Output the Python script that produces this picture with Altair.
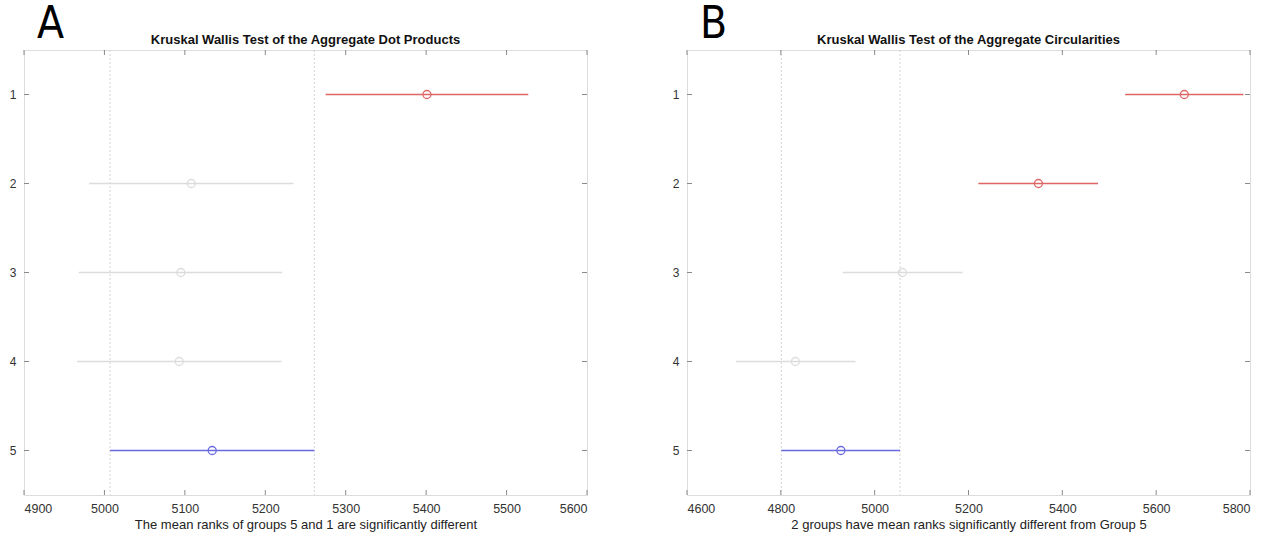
import altair as alt
import pandas as pd

# ---- data ----
groups = [1, 2, 3, 4, 5]

a_center = [5401, 5108, 5095, 5093, 5134]
a_low = [5275, 4981, 4968, 4966, 5007]
a_high = [5527, 5235, 5221, 5220, 5261]
a_status = ["sig", "ns", "ns", "ns", "ref"]
a_xticks = [4900, 5000, 5100, 5200, 5300, 5400, 5500, 5600]

b_center = [5660, 5349, 5059, 4831, 4928]
b_low = [5534, 5221, 4932, 4704, 4801]
b_high = [5786, 5476, 5187, 4959, 5054]
b_status = ["sig", "sig", "ns", "ns", "ref"]
b_xticks = [4600, 4800, 5000, 5200, 5400, 5600, 5800]

W, H = 563, 445
status_domain = ["sig", "ns", "ref"]
status_range = ["#e06666", "#dcdcdc", "#6a6ae0"]
FONT = "Liberation Sans"


def panel(letter, title, xlabel, center, low, high, status, xticks):
    df = pd.DataFrame({"group": groups, "center": center, "low": low,
                       "high": high, "status": status})
    xdom = [xticks[0], xticks[-1]]
    xs = alt.Scale(domain=xdom, nice=False, zero=False)
    ys = alt.Scale(domain=[0.5, 5.5], reverse=True, nice=False, zero=False)
    color = alt.Color("status:N", scale=alt.Scale(domain=status_domain, range=status_range),
                      legend=None)

    ref = df[df.group == 5]
    ref_lines = pd.DataFrame({"v": [ref.low.iloc[0], ref.high.iloc[0]]})

    yaxis = alt.Axis(values=groups, ticks=False, domain=False, grid=False,
                     labelPadding=8, labelFontSize=12, labelColor="#333",
                     labelFont=FONT, format="d", title=None)
    xaxis = alt.Axis(values=xticks, ticks=False, domain=False, grid=False,
                     labelPadding=7, labelFontSize=12.5, labelColor="#333",
                     labelFont=FONT, format="d", title=xlabel, titleFont=FONT,
                     titleFontSize=13, titleFontWeight="normal", titleColor="#222",
                     titlePadding=4)

    base = alt.Chart(df)
    vlines = alt.Chart(ref_lines).mark_rule(color="#d4d4d4", strokeDash=[2, 2],
                                            strokeWidth=1).encode(
        x=alt.X("v:Q", scale=xs, axis=xaxis))
    bars = base.mark_rule(strokeWidth=1.5).encode(
        x=alt.X("low:Q", scale=xs),
        x2="high:Q",
        y=alt.Y("group:Q", scale=ys, axis=yaxis),
        color=color)
    pts = base.mark_point(shape="circle", filled=False, size=64, strokeWidth=1.3,
                          opacity=1).encode(
        x=alt.X("center:Q", scale=xs),
        y=alt.Y("group:Q", scale=ys),
        color=color)

    xt = pd.DataFrame({"v": xticks})
    yt = pd.DataFrame({"g": groups})
    tick_col = "#8a8a8a"
    xt_bot = alt.Chart(xt).mark_rule(color=tick_col, strokeWidth=1).encode(
        x=alt.X("v:Q", scale=xs), y=alt.value(H), y2=alt.value(H - 5))
    xt_top = alt.Chart(xt).mark_rule(color=tick_col, strokeWidth=1).encode(
        x=alt.X("v:Q", scale=xs), y=alt.value(0), y2=alt.value(5))
    yt_l = alt.Chart(yt).mark_rule(color=tick_col, strokeWidth=1).encode(
        y=alt.Y("g:Q", scale=ys), x=alt.value(0), x2=alt.value(5))
    yt_r = alt.Chart(yt).mark_rule(color=tick_col, strokeWidth=1).encode(
        y=alt.Y("g:Q", scale=ys), x=alt.value(W - 5), x2=alt.value(W))

    lab = alt.Chart(pd.DataFrame({"t": [letter]})).mark_text(
        font="Liberation Sans Narrow, DejaVu Sans Condensed, Liberation Sans, sans-serif",
        fontSize=44, fontWeight="normal",
        align="left", baseline="alphabetic", color="#000").encode(
        text="t:N", x=alt.value(13), y=alt.value(-12))

    ttl = alt.Chart(pd.DataFrame({"t": [title]})).mark_text(
        font=FONT, fontSize=13, fontWeight="bold", align="center",
        baseline="alphabetic", color="#111").encode(
        text="t:N", x=alt.value(W / 2), y=alt.value(-6))

    return alt.layer(vlines, bars, pts, xt_bot, xt_top, yt_l, yt_r, lab, ttl).properties(
        width=W, height=H)


pa = panel("A", "Kruskal Wallis Test of the Aggregate Dot Products",
           "The mean ranks of groups 5 and 1 are significantly different",
           a_center, a_low, a_high, a_status, a_xticks)
pb = panel("B", "Kruskal Wallis Test of the Aggregate Circularities",
           "2 groups have mean ranks significantly different from Group 5",
           b_center, b_low, b_high, b_status, b_xticks)

chart = alt.hconcat(pa, pb, spacing=100, bounds="flush").configure_view(
    stroke="#9a9a9a", strokeWidth=1.2).configure(background="white").properties(
    padding={"left": 8, "top": 2, "right": 5, "bottom": 5})

chart.save("out.html", embed_options={"renderer": "svg", "actions": False})
